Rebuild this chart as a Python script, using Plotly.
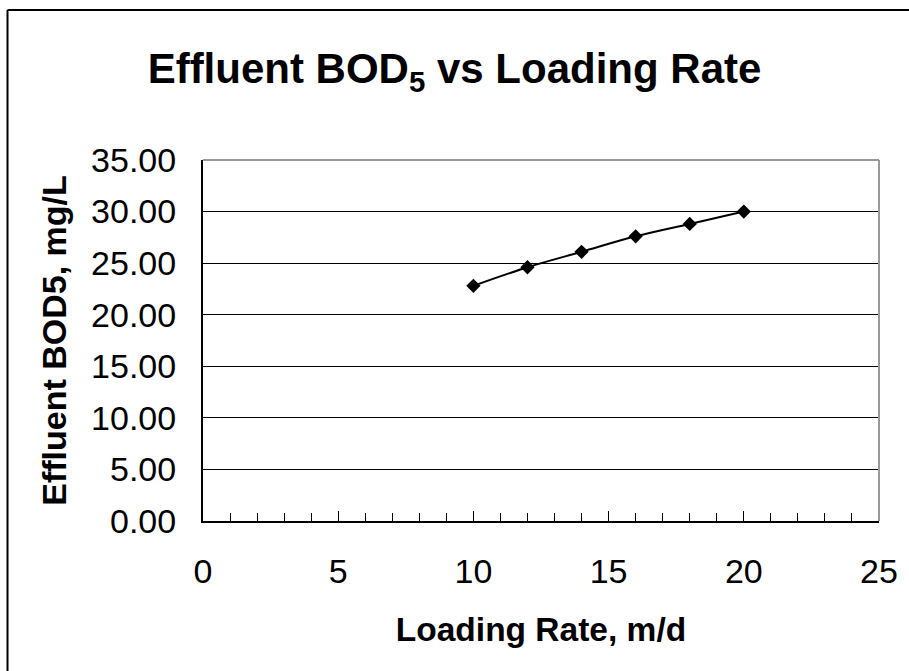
import plotly.graph_objects as go

# Effluent BOD5 measured at each hydraulic loading rate
loading_rate = [10, 12, 14, 16, 18, 20]          # m/d
effluent_bod5 = [22.8, 24.6, 26.1, 27.6, 28.8, 30.0]  # mg/L

x_ticks = [0, 5, 10, 15, 20, 25]
y_ticks = [0, 5, 10, 15, 20, 25, 30, 35]
y_tick_text = [f"{v:.2f}" for v in y_ticks]

FONT = "Arial, 'Liberation Sans', sans-serif"
W, H = 909, 671
L, R, T, B = 203, 30, 160, 150
plot_w, plot_h = W - L - R, H - T - B


def px_to_paper_x(px):
    return (px - L) / plot_w


def px_to_paper_y(py):
    return (H - B - py) / plot_h


fig = go.Figure(
    go.Scatter(
        x=loading_rate,
        y=effluent_bod5,
        mode="lines+markers",
        line=dict(color="black", width=2, shape="spline", smoothing=1),
        marker=dict(symbol="diamond", size=11, color="black"),
        showlegend=False,
        cliponaxis=False,
    )
)

fig.update_layout(
    width=W,
    height=H,
    margin=dict(l=L, r=R, t=T, b=B, autoexpand=False),
    paper_bgcolor="white",
    plot_bgcolor="white",
    font=dict(family=FONT, color="black"),
    title=dict(
        text="<b>Effluent BOD<sub>5</sub> vs Loading Rate</b>",
        x=0.5,
        xanchor="center",
        xref="container",
        y=1 - 68 / H,
        yanchor="middle",
        yref="container",
        font=dict(size=42, family=FONT, color="black"),
    ),
)

fig.update_xaxes(
    range=[0, 25],
    tickmode="array",
    tickvals=x_ticks,
    ticks="inside",
    ticklen=10,
    tickwidth=1,
    tickcolor="black",
    showline=True,
    linecolor="black",
    linewidth=2,
    showgrid=False,
    zeroline=False,
    tickfont=dict(size=34, family=FONT, color="black"),
    ticklabelstandoff=19,
    minor=dict(tickmode="linear", tick0=0, dtick=1, ticks="inside",
               ticklen=8, tickwidth=1, tickcolor="black", showgrid=False),
    title=dict(text="<b>Loading Rate, m/d</b>", standoff=29,
               font=dict(size=33.5, family=FONT, color="black")),
)

fig.update_yaxes(
    range=[0, 35],
    tickmode="array",
    tickvals=y_ticks,
    ticktext=y_tick_text,
    ticks="",
    showline=True,
    linecolor="black",
    linewidth=2,
    showgrid=True,
    gridcolor="black",
    gridwidth=1,
    zeroline=False,
    tickfont=dict(size=34, family=FONT, color="black"),
    ticklabelstandoff=18,
    title=dict(text="<b>Effluent BOD5, mg/L</b>", standoff=14,
               font=dict(size=34, family=FONT, color="black")),
)

# grey plot-area frame on the top and right edges
fig.add_shape(type="line", xref="paper", yref="paper", x0=0, x1=1, y0=1, y1=1,
              line=dict(color="#999999", width=2), layer="above")
fig.add_shape(type="line", xref="paper", yref="paper", x0=1, x1=1, y0=0, y1=1,
              line=dict(color="#999999", width=2), layer="above")

# chart-area border
bx, by = px_to_paper_x(7.5), px_to_paper_y(10)
fig.add_shape(type="line", xref="paper", yref="paper", x0=bx, x1=bx,
              y0=by, y1=px_to_paper_y(H + 20), line=dict(color="black", width=2))
fig.add_shape(type="line", xref="paper", yref="paper", x0=bx, x1=px_to_paper_x(W + 20),
              y0=by, y1=by, line=dict(color="black", width=2))

fig.write_html("out.html")
